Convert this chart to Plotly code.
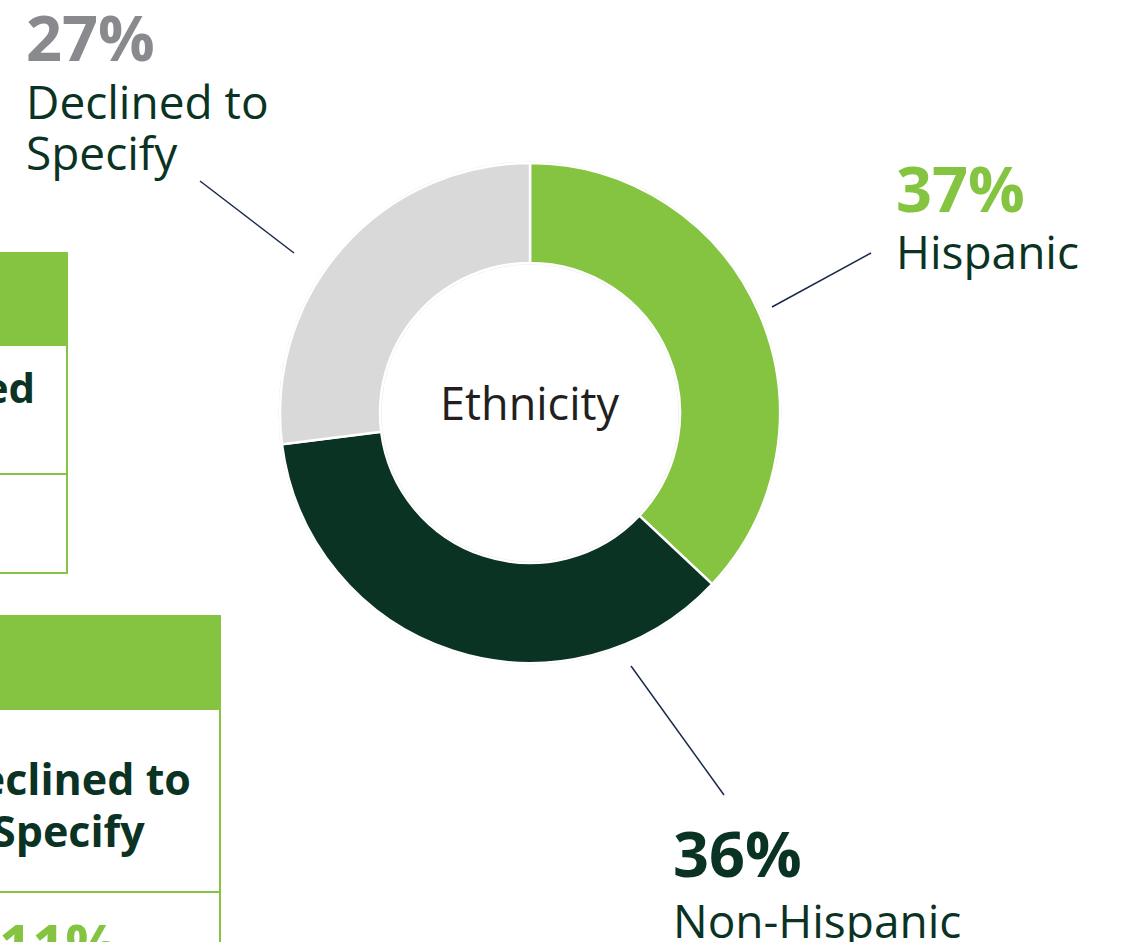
import plotly.graph_objects as go

# Ethnicity breakdown (percent)
categories = ["Hispanic", "Non-Hispanic", "Declined to Specify"]
values = [37, 36, 27]
colors = ["#84C441", "#0A3323", "#D9D9D9"]
pct_colors = ["#84C441", "#0A3323", "#898A8D"]
label_lines = [["Hispanic"], ["Non-Hispanic"], ["Declined to", "Specify"]]

# Partial table cells visible at the left edge
table_cells = [["Declined"], ["Declined to", "Specify"]]
table_pct = "11%"

W, H = 1121, 942
CX, CY, R = 530, 413, 250          # donut centre / outer radius in px
HOLE = 0.6

FONT = "Open Sans"
DARK = "#0A3323"
GREEN = "#84C441"
LEADER = "#1B2A4A"

fig = go.Figure()

fig.add_trace(go.Pie(
    labels=categories,
    values=values,
    marker=dict(colors=colors, line=dict(color="white", width=2.5)),
    hole=HOLE,
    sort=False,
    direction="clockwise",
    rotation=0,
    textinfo="none",
    hoverinfo="label+percent",
    showlegend=False,
    domain=dict(x=[(CX - R) / W, (CX + R) / W],
                y=[(H - CY - R) / H, (H - CY + R) / H]),
))

shapes = []
# faint outline around the ring
for rad in (R + 1, R * HOLE - 1):
    shapes.append(dict(type="circle", xref="x", yref="y",
                       x0=CX - rad, x1=CX + rad, y0=CY - rad, y1=CY + rad,
                       line=dict(color="#E3E3E3", width=1), layer="below"))

# leader lines
for (x0, y0, x1, y1) in [(200, 181, 294, 253), (871, 253, 772, 307), (631, 666, 724, 795)]:
    shapes.append(dict(type="line", xref="x", yref="y", x0=x0, y0=y0, x1=x1, y1=y1,
                       line=dict(color=LEADER, width=1.5)))

# table fragments on the left
shapes += [
    dict(type="rect", xref="x", yref="y", x0=-20, x1=68, y0=252, y1=345,
         fillcolor=GREEN, line=dict(width=0)),
    dict(type="rect", xref="x", yref="y", x0=-20, x1=67, y0=345, y1=573,
         fillcolor="rgba(0,0,0,0)", line=dict(color=GREEN, width=2)),
    dict(type="line", xref="x", yref="y", x0=-20, x1=67, y0=474, y1=474,
         line=dict(color=GREEN, width=2)),
    dict(type="rect", xref="x", yref="y", x0=-20, x1=221, y0=615, y1=709,
         fillcolor=GREEN, line=dict(width=0)),
    dict(type="rect", xref="x", yref="y", x0=-20, x1=220, y0=709, y1=960,
         fillcolor="rgba(0,0,0,0)", line=dict(color=GREEN, width=2)),
    dict(type="line", xref="x", yref="y", x0=-20, x1=220, y0=892, y1=892,
         line=dict(color=GREEN, width=2)),
]

ann = []
def text(x, y, s, size, color, bold=False, xanchor="left", yanchor="middle"):
    ann.append(dict(x=x, y=y, xref="x", yref="y", text=s, showarrow=False,
                    xanchor=xanchor, yanchor=yanchor,
                    font=dict(family=FONT, size=size, color=color,
                              weight=700 if bold else 400)))

def lines(x, y0, rows, step, size, color, bold=False, xanchor="left"):
    for i, row in enumerate(rows):
        text(x, y0 + i * step, row, size, color, bold=bold, xanchor=xanchor)

# callouts
text(24, 36, f"{values[2]}%", 63, pct_colors[2], bold=True)
lines(24, 101, label_lines[2], 51, 46, DARK)
text(894, 187, f"{values[0]}%", 63, pct_colors[0], bold=True)
lines(894, 251, label_lines[0], 51, 46, DARK)
text(671, 852, f"{values[1]}%", 63, pct_colors[1], bold=True)
lines(671, 920, label_lines[1], 51, 46, DARK)

# centre label
text(CX, 402, "Ethnicity", 45, "#231F20", xanchor="center")

# table text
lines(37, 386, table_cells[0], 53, 42, DARK, bold=True, xanchor="right")
lines(193, 778, table_cells[1][:1], 53, 43, DARK, bold=True, xanchor="right")
lines(147, 830, table_cells[1][1:], 53, 43, DARK, bold=True, xanchor="right")
text(58, 902, table_pct, 58, GREEN, bold=True, xanchor="center", yanchor="top")

fig.update_layout(
    width=W, height=H,
    margin=dict(l=0, r=0, t=0, b=0),
    paper_bgcolor="white", plot_bgcolor="rgba(0,0,0,0)",
    xaxis=dict(range=[0, W], visible=False, fixedrange=True),
    yaxis=dict(range=[H, 0], visible=False, fixedrange=True),
    shapes=shapes, annotations=ann,
)

fig.write_html("out.html")
